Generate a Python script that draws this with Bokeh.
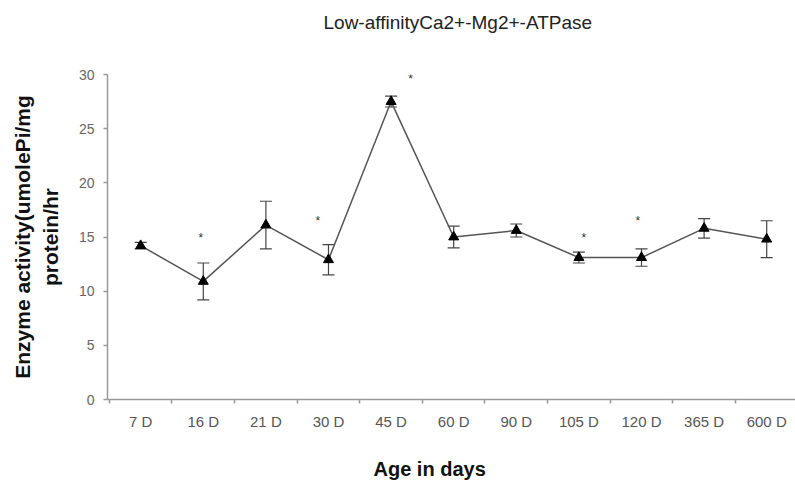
from bokeh.plotting import figure
from bokeh.models import ColumnDataSource, Whisker, FixedTicker, TeeHead, Range1d, Title
from bokeh.embed import file_html
from bokeh.resources import INLINE
from bokeh.core.properties import value

categories = ["7 D", "16 D", "21 D", "30 D", "45 D", "60 D", "90 D", "105 D", "120 D", "365 D", "600 D"]
activity = [14.2, 10.9, 16.1, 12.9, 27.5, 15.0, 15.6, 13.1, 13.1, 15.8, 14.8]
errors = [0.3, 1.7, 2.2, 1.4, 0.5, 1.0, 0.6, 0.5, 0.8, 0.9, 1.7]
sig_pos = [1.96, 3.83, 5.31, 8.08, 8.94]
sig_level = [14.9, 16.5, 29.6, 14.9, 16.5]
y_ticks = [0, 5, 10, 15, 20, 25, 30]

xs = list(range(1, len(categories) + 1))
src = ColumnDataSource(dict(
    x=xs, y=activity,
    upper=[a + e for a, e in zip(activity, errors)],
    lower=[a - e for a, e in zip(activity, errors)],
))

FONT = "Liberation Sans"

p = figure(width=795, height=481, output_backend="svg", toolbar_location=None,
           x_range=Range1d(0.47, 11.46), y_range=Range1d(0, 30),
           min_border_left=107, min_border_right=0, min_border_top=74, min_border_bottom=82)
p.title.text = ""
p.outline_line_color = None
p.xgrid.grid_line_color = None
p.ygrid.grid_line_color = None

# x axis
p.xaxis.ticker = FixedTicker(ticks=xs, minor_ticks=[i + 0.5 for i in range(0, len(categories) + 1)])
p.xaxis.major_label_overrides = {i: c for i, c in zip(xs, categories)}
p.xaxis.major_tick_out = 0
p.xaxis.major_tick_in = 0
p.xaxis.minor_tick_out = 4
p.xaxis.minor_tick_in = 0
p.xaxis.minor_tick_line_color = "#999999"
p.xaxis.minor_tick_line_width = 1.5
p.xaxis.axis_line_color = "#999999"
p.xaxis.axis_line_width = 1.5
p.xaxis.major_label_text_font = FONT
p.xaxis.major_label_text_font_size = "15px"
p.xaxis.major_label_text_color = "#555555"
p.xaxis.major_label_standoff = 9

# y axis
p.yaxis.ticker = FixedTicker(ticks=y_ticks)
p.yaxis.minor_tick_line_color = None
p.yaxis.major_tick_out = 4
p.yaxis.major_tick_in = 0
p.yaxis.major_tick_line_color = "#999999"
p.yaxis.major_tick_line_width = 1.5
p.yaxis.axis_line_color = "#999999"
p.yaxis.axis_line_width = 1.5
p.yaxis.major_label_text_font = FONT
p.yaxis.major_label_text_font_size = "14px"
p.yaxis.major_label_text_color = "#666666"
p.yaxis.major_label_standoff = 9
p.yaxis.axis_label = "Enzyme activity(umolePi/mg\nprotein/hr"
p.yaxis.axis_label_text_font = FONT
p.yaxis.axis_label_text_font_size = "21px"
p.yaxis.axis_label_text_font_style = "bold"
p.yaxis.axis_label_text_color = "#111111"
p.yaxis.axis_label_standoff = 14

# error bars
wh = Whisker(base="x", upper="upper", lower="lower", source=src,
             line_color="#444444", line_width=1.2,
             upper_head=TeeHead(size=12, line_color="#444444", line_width=1.2),
             lower_head=TeeHead(size=12, line_color="#444444", line_width=1.2))
p.add_layout(wh)

p.line("x", "y", source=src, line_color="#555555", line_width=1.5)
p.scatter("x", "y", source=src, marker="triangle", size=10, fill_color="black", line_color="black")

p.text(x=sig_pos, y=sig_level, text=["*"] * len(sig_pos), text_font=value(FONT),
       text_font_size="12px", text_color="#333333", text_align="center", text_baseline="middle")

# spacing panels so the titles sit where Excel placed them
p.add_layout(Title(text=" ", text_font_size="2px", standoff=28), "above")
p.add_layout(Title(text="Low-affinityCa2+-Mg2+-ATPase", align="left", offset=216, standoff=16,
                   vertical_align="top",
                   text_font=FONT, text_font_size="19px", text_font_style="normal",
                   text_color="#222222"), "above")
p.add_layout(Title(text=" ", text_font_size="2px", standoff=18), "below")
p.add_layout(Title(text="Age in days", align="left", offset=266, standoff=2,
                   vertical_align="bottom",
                   text_font=FONT, text_font_size="20px", text_font_style="bold",
                   text_color="#111111"), "below")

open("out.html", "w").write(file_html(p, INLINE))
